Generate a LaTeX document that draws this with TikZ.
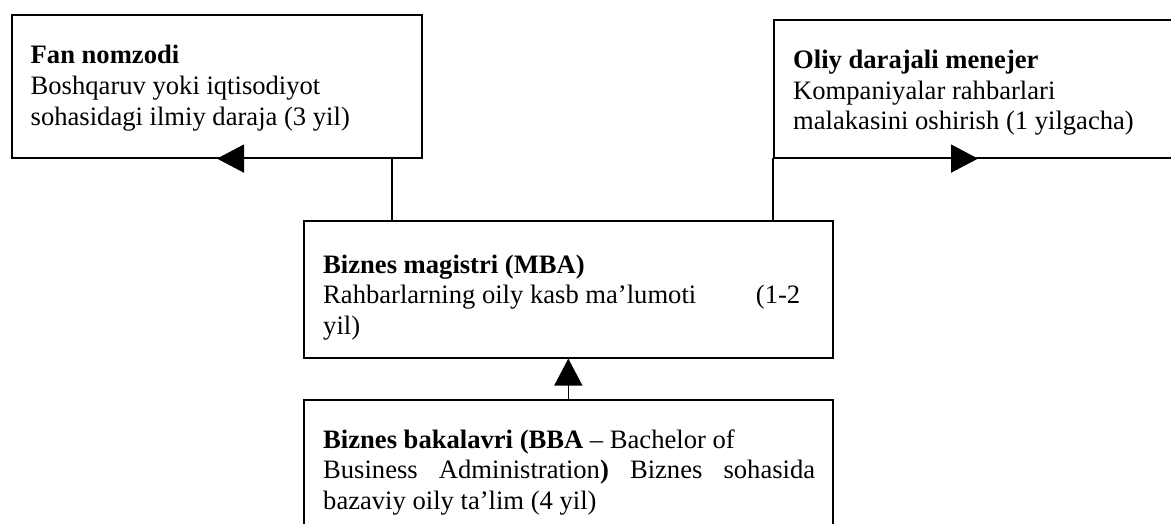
\documentclass[tikz,border=0pt]{standalone}
\usepackage{fontspec}
\setmainfont{Liberation Serif}
\usetikzlibrary{arrows.meta}
\begin{document}
\begin{tikzpicture}[x=1pt,y=-1pt,
  box/.style={draw, line width=1.6pt, rectangle, inner sep=0pt, anchor=north west},
  txt/.style={inner sep=0pt, anchor=base west, font=\fontsize{26.6}{30.7}\selectfont},
  link/.style={line width=1.6pt},
  tip/.style={-{Triangle[length=27pt,width=28pt]}}
]
\useasboundingbox (0,0) rectangle (1171,524);
\clip (0,0) rectangle (1171,524);

% frames
\node[box, minimum width=410pt, minimum height=143pt] (fan) at (11,14) {};
\node[box, minimum width=420pt, minimum height=138pt] (men) at (773,19) {};
\node[box, minimum width=529pt, minimum height=137pt] (mba) at (303,220) {};
\node[box, minimum width=529pt, minimum height=150pt] (bba) at (303,399) {};

% texts
\node[txt] (fanText) at (30.5,64) {\parbox[t]{370pt}{\textbf{Fan nomzodi}\\Boshqaruv yoki iqtisodiyot\\sohasidagi ilmiy daraja (3 yil)}};
\node[txt] (menText) at (793,68.5) {\parbox[t]{370pt}{\textbf{Oliy darajali menejer}\\Kompaniyalar rahbarlari\\malakasini oshirish (1 yilgacha)}};
\node[txt] (mbaText) at (323,273) {\parbox[t]{477pt}{\textbf{Biznes magistri (MBA)}\\Rahbarlarning oily kasb ma’lumoti\hfill(1-2\\yil)}};
\node[txt] (bbaText) at (323,448) {\parbox[t]{492pt}{\textbf{Biznes bakalavri (BBA} -- Bachelor of\\\makebox[\linewidth][s]{Business Administration\textbf{)} Biznes sohasida}\\bazaviy oily ta’lim (4 yil)}};

% connectors
\coordinate (fanTip) at ([xshift=206pt]fan.south west);
\coordinate (menTip) at ([xshift=205pt]men.south west);
\draw[link,tip] ([xshift=89pt]mba.north west) |- (fanTip);
\draw[link,tip] ([xshift=470pt]mba.north west) |- (menTip);
\draw[link,tip] (bba.north) -- (mba.south);
\end{tikzpicture}
\end{document}
